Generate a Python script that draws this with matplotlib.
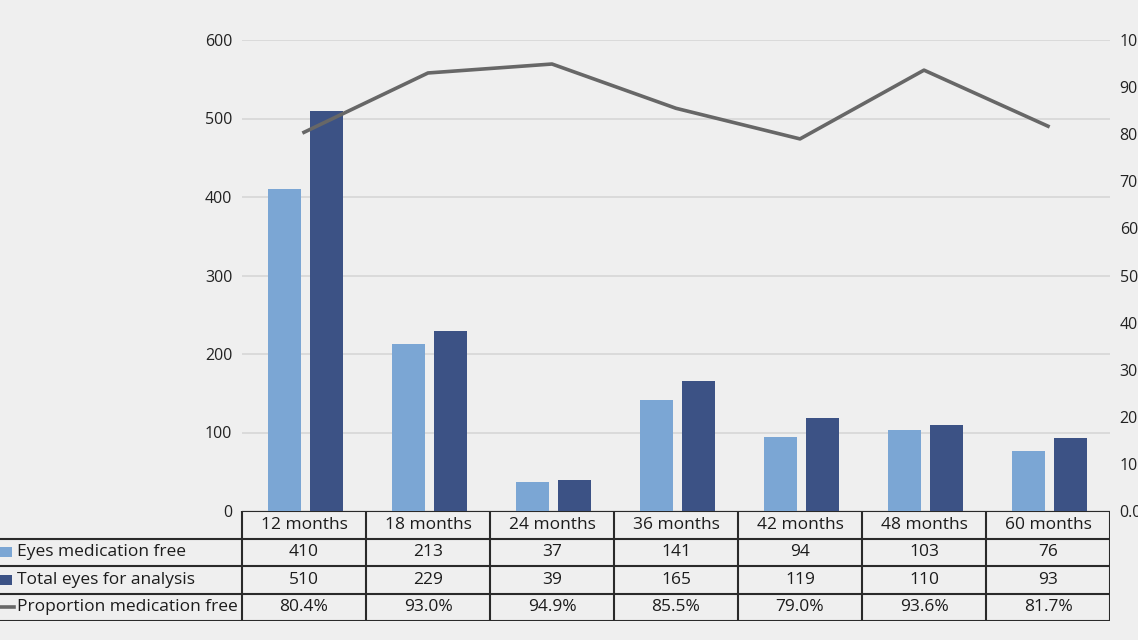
import matplotlib.pyplot as plt
from matplotlib.ticker import FuncFormatter

# data
months = ['12 months', '18 months', '24 months', '36 months', '42 months', '48 months', '60 months']
med_free = [410, 213, 37, 141, 94, 103, 76]
total_eyes = [510, 229, 39, 165, 119, 110, 93]
proportion = [80.4, 93.0, 94.9, 85.5, 79.0, 93.6, 81.7]
row_labels = ['Eyes medication free', 'Total eyes for analysis', 'Proportion medication free']

LIGHT = '#7ba6d4'
DARK = '#3c5285'
LINE = '#676767'
BG = '#efefef'

plt.rcParams['font.family'] = ['Open Sans', 'DejaVu Sans']

W, H = 1138, 640
fig = plt.figure(figsize=(W / 100, H / 100), dpi=100, facecolor=BG)

# main chart area (pixel positions)
x0, x1 = 242, 1110
y_top, y_bot = 40, 511
ax = fig.add_axes([x0 / W, 1 - y_bot / H, (x1 - x0) / W, (y_bot - y_top) / H])
ax.set_facecolor(BG)

xs = list(range(len(months)))
bw = 0.266
ax.bar([x - 0.155 for x in xs], med_free, width=bw, color=LIGHT, zorder=3)
ax.bar([x + 0.18 for x in xs], total_eyes, width=bw, color=DARK, zorder=3)
ax.set_xlim(-0.5, len(months) - 0.5)
ax.set_ylim(0, 600)
ax.set_yticks(range(0, 601, 100))
ax.set_xticks([])
ax.grid(axis='y', color='#d6d6d6', linewidth=1.2, zorder=0)
for s in ax.spines.values():
    s.set_visible(False)
ax.tick_params(axis='y', length=0, pad=7, labelsize=11.5, labelcolor='#222222')

ax2 = ax.twinx()
ax2.plot(xs, proportion, color=LINE, linewidth=2.6, zorder=4)
ax2.set_ylim(0, 100)
ax2.set_yticks(range(0, 101, 10))
ax2.yaxis.set_major_formatter(FuncFormatter(lambda v, p: f'{v:.1f}%'))
for s in ax2.spines.values():
    s.set_visible(False)
ax2.tick_params(axis='y', length=0, pad=7, labelsize=11.5, labelcolor='#222222')

# data table below the chart
lab_w = x0 / 124.0  # label column width in category units
tab = fig.add_axes([0, 1 - 621 / H, x1 / W, (621 - y_bot) / H])
tab.set_xlim(-0.5 - lab_w, len(months) - 0.5)
tab.set_ylim(4, 0)
tab.axis('off')
tab.patch.set_visible(False)

lc = '#2a2a2a'
lw = 1.5
# horizontal lines
tab.plot([-0.5, len(months) - 0.5], [0, 0], color=lc, lw=lw)
for r in range(1, 5):
    tab.plot([-0.5 - lab_w, len(months) - 0.5], [r, r], color=lc, lw=lw)
# vertical lines
for c in range(len(months) + 1):
    tab.plot([c - 0.5, c - 0.5], [0, 4], color=lc, lw=lw)

fs = 12.5
tc = '#1c1c1c'
for i, m in enumerate(months):
    tab.text(i, 0.5, m, ha='center', va='center', fontsize=fs, color=tc)
    tab.text(i, 1.5, str(med_free[i]), ha='center', va='center', fontsize=fs, color=tc)
    tab.text(i, 2.5, str(total_eyes[i]), ha='center', va='center', fontsize=fs, color=tc)
    tab.text(i, 3.5, f'{proportion[i]:.1f}%', ha='center', va='center', fontsize=fs, color=tc)

# row labels with legend keys
kx = -0.5 - lab_w
key_w = 12 / 124.0
tab.bar(kx + key_w / 2, 0.36, bottom=1.32, width=key_w, color=LIGHT)
tab.bar(kx + key_w / 2, 0.36, bottom=2.32, width=key_w, color=DARK)
tab.plot([kx, kx + 14 / 124.0], [3.5, 3.5], color=LINE, lw=2.6)
for r, lab in enumerate(row_labels):
    tab.text(kx + 17 / 124.0, r + 1.5, lab, ha='left', va='center', fontsize=fs, color=tc)

fig.savefig('out.png', dpi=100, facecolor=BG)
